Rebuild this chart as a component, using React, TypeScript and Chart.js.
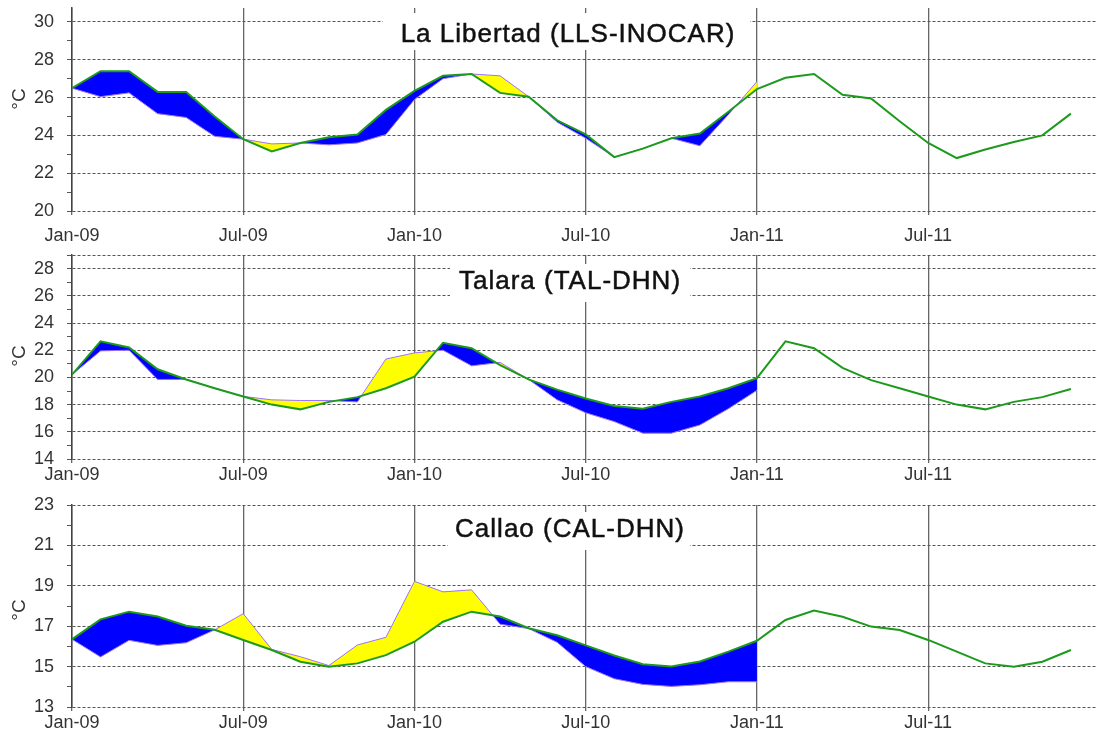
import React, { useEffect, useRef } from 'react';
import { Chart, registerables } from 'chart.js';

Chart.register(...registerables);

// Tick labels along the time axis (one every 6 months, starting Jan-09)
const X_TICK_LABELS = ['Jan-09', 'Jul-09', 'Jan-10', 'Jul-10', 'Jan-11', 'Jul-11'];

const TITLES = ['La Libertad (LLS-INOCAR)', 'Talara (TAL-DHN)', 'Callao (CAL-DHN)'];
const UNIT_LABEL = '°C';

// Monthly values, Jan-09 onwards. *_CLIM: climatology, *_OBS: observed SST.
const LIBERTAD_CLIM = [
  26.5, 27.4, 27.4, 26.3, 26.3, 25.0, 23.8, 23.15, 23.6, 23.9, 24.05, 25.35,
  26.35, 27.15, 27.25, 26.25, 26.05, 24.8, 24.05, 22.85, 23.3, 23.85, 24.1, 25.25,
  26.45, 27.05, 27.25, 26.15, 25.95, 24.75, 23.6, 22.8, 23.25, 23.65, 24.0, 25.15,
];
const LIBERTAD_OBS = [
  26.5, 26.05, 26.25, 25.15, 24.95, 23.95, 23.8, 23.55, 23.6, 23.5, 23.6, 24.05,
  25.9, 27.0, 27.25, 27.15, 26.05, 24.7, 23.85, 22.85, 23.3, 23.85, 23.45, 25.1,
  26.85,
];

const TALARA_CLIM = [
  20.2, 22.65, 22.2, 20.6, 19.85, 19.2, 18.6, 18.0, 17.65, 18.2, 18.55, 19.2,
  20.05, 22.55, 22.15, 20.9, 19.85, 19.1, 18.45, 17.9, 17.7, 18.2, 18.6, 19.2,
  19.95, 22.65, 22.15, 20.7, 19.8, 19.2, 18.6, 18.0, 17.65, 18.2, 18.55, 19.15,
];
const TALARA_OBS = [
  20.2, 21.95, 22.0, 19.85, 19.85, 19.2, 18.6, 18.35, 18.3, 18.3, 18.2, 21.35,
  21.8, 22.0, 20.85, 21.1, 19.85, 18.35, 17.4, 16.75, 15.9, 15.9, 16.5, 17.7,
  19.05,
];

const CALLAO_CLIM = [
  16.35, 17.34, 17.72, 17.48, 17.02, 16.82, 16.32, 15.82, 15.24, 14.99, 15.16, 15.57,
  16.23, 17.22, 17.72, 17.48, 16.9, 16.55, 16.05, 15.55, 15.12, 15.0, 15.25, 15.74,
  16.28, 17.31, 17.77, 17.47, 16.98, 16.81, 16.32, 15.74, 15.16, 14.99, 15.24, 15.82,
];
const CALLAO_OBS = [
  16.35, 15.48, 16.3, 16.05, 16.18, 16.82, 17.62, 15.85, 15.49, 15.05, 16.07, 16.45,
  19.22, 18.7, 18.8, 17.1, 16.88, 16.2, 15.0, 14.4, 14.12, 14.02, 14.1, 14.25,
  14.25,
];

const FONT = '"Liberation Sans", Arial, Helvetica, sans-serif';
const WIDTH = 1096;
const X_MAX = 35.88; // months after Jan-09 at the right edge of the plot

type PanelSpec = {
  title: string;
  clim: number[];
  obs: number[];
  yMin: number;
  yMax: number;
  height: number;
  padTop: number;
  xAxisHeight: number;
  xLabelPad: number;
  titleX: number;
  titleY: number;
  box: [number, number, number, number];
  unitY: number;
};

const PANELS: PanelSpec[] = [
  {
    title: TITLES[0], clim: LIBERTAD_CLIM, obs: LIBERTAD_OBS,
    yMin: 20, yMax: 30.74, height: 245, padTop: 8, xAxisHeight: 34, xLabelPad: 10,
    titleX: 568, titleY: 35, box: [383, 13, 367, 37], unitY: 99,
  },
  {
    title: TITLES[1], clim: TALARA_CLIM, obs: TALARA_OBS,
    yMin: 14, yMax: 29, height: 245, padTop: 10, xAxisHeight: 31, xLabelPad: 1,
    titleX: 570, titleY: 37, box: [450, 19, 240, 38], unitY: 111,
  },
  {
    title: TITLES[2], clim: CALLAO_CLIM, obs: CALLAO_OBS,
    yMin: 13, yMax: 23, height: 244, padTop: 15, xAxisHeight: 27, xLabelPad: 1,
    titleX: 570, titleY: 40, box: [448, 22, 242, 38], unitY: 120,
  },
];

function Panel({ spec }: { spec: PanelSpec }) {
  const ref = useRef<HTMLCanvasElement | null>(null);

  useEffect(() => {
    if (!ref.current) return;
    const isMajor = (v: number) => Math.abs(((v - spec.yMin) % 2 + 2) % 2) < 1e-6;

    const decorations = {
      id: 'panelDecorations',
      beforeDatasetsDraw(chart: Chart) {
        const ctx = chart.ctx;
        const [bx, by, bw, bh] = spec.box;
        ctx.save();
        ctx.fillStyle = '#ffffff';
        ctx.fillRect(bx, by, bw, bh);
        ctx.fillStyle = '#111111';
        ctx.strokeStyle = '#111111';
        ctx.lineWidth = 0.5;
        ctx.font = `26px ${FONT}`;
        (ctx as any).letterSpacing = '1px';
        ctx.textAlign = 'center';
        ctx.textBaseline = 'middle';
        ctx.fillText(spec.title, spec.titleX, spec.titleY);
        ctx.strokeText(spec.title, spec.titleX, spec.titleY);
        ctx.restore();
      },
      afterDraw(chart: Chart) {
        const ctx = chart.ctx;
        ctx.save();
        ctx.translate(20, spec.unitY);
        ctx.rotate(-Math.PI / 2);
        ctx.fillStyle = '#333333';
        ctx.font = `19px ${FONT}`;
        ctx.textAlign = 'center';
        ctx.textBaseline = 'middle';
        ctx.fillText(UNIT_LABEL, 0, 0);
        ctx.restore();
      },
    };

    const chart = new Chart(ref.current, {
      type: 'line',
      data: {
        datasets: [
          {
            label: 'clim',
            data: spec.clim.map((y, i) => ({ x: i, y })),
            borderColor: '#1c9a1c',
            borderWidth: 2,
            pointRadius: 0,
            fill: false,
            tension: 0,
          },
          {
            label: 'obs',
            data: spec.obs.map((y, i) => ({ x: i, y })),
            borderColor: '#9a72ff',
            borderWidth: 1,
            pointRadius: 0,
            tension: 0,
            fill: { target: 0, above: '#ffff00', below: '#0000ff' },
          },
        ],
      },
      options: {
        animation: false,
        responsive: false,
        devicePixelRatio: 1,
        layout: { padding: { top: spec.padTop, left: 0, right: 0, bottom: 0 } },
        plugins: {
          legend: { display: false },
          tooltip: { enabled: false },
          filler: { propagate: false, drawTime: 'beforeDatasetsDraw' },
        },
        scales: {
          x: {
            type: 'linear',
            min: 0,
            max: X_MAX,
            afterFit: (s: any) => {
              s.height = spec.xAxisHeight;
              s.paddingLeft = 0;
              s.paddingRight = 0;
            },
            ticks: {
              stepSize: 6,
              includeBounds: false,
              autoSkip: false,
              maxRotation: 0,
              padding: spec.xLabelPad,
              color: '#333333',
              font: { family: FONT, size: 18 },
              callback: (v: any) => X_TICK_LABELS[Math.round(Number(v) / 6)] ?? '',
            },
            grid: {
              color: '#666666',
              lineWidth: 1.3,
              tickLength: 4,
              tickColor: '#666666',
            },
            border: { display: false },
          },
          y: {
            type: 'linear',
            min: spec.yMin,
            max: spec.yMax,
            afterFit: (s: any) => {
              s.width = 72;
              s.paddingTop = 0;
              s.paddingBottom = 0;
            },
            ticks: {
              stepSize: 1,
              includeBounds: false,
              autoSkip: false,
              padding: 13,
              color: '#333333',
              font: { family: FONT, size: 18 },
              callback: (v: any) => (isMajor(Number(v)) ? String(v) : ''),
            },
            grid: {
              color: (c: any) =>
                isMajor(c.tick.value) || Math.abs(c.tick.value - spec.yMax) < 1e-6 ? '#555555' : 'rgba(0,0,0,0)',
              lineWidth: 1,
              tickLength: 5,
              tickColor: '#555555',
            },
            border: { display: true, color: '#444444', width: 1.5, dash: [3, 2] },
          },
        },
      },
      plugins: [decorations],
    } as any);

    return () => chart.destroy();
  }, [spec]);

  return (
    <canvas
      ref={ref}
      width={WIDTH}
      height={spec.height}
      style={{ display: 'block', width: WIDTH, height: spec.height }}
    />
  );
}

export default function App() {
  return (
    <div
      style={{
        position: 'fixed',
        left: 0,
        top: 0,
        width: WIDTH,
        height: 734,
        background: '#ffffff',
        overflow: 'hidden',
      }}
    >
      {PANELS.map((p) => (
        <Panel key={p.title} spec={p} />
      ))}
    </div>
  );
}
